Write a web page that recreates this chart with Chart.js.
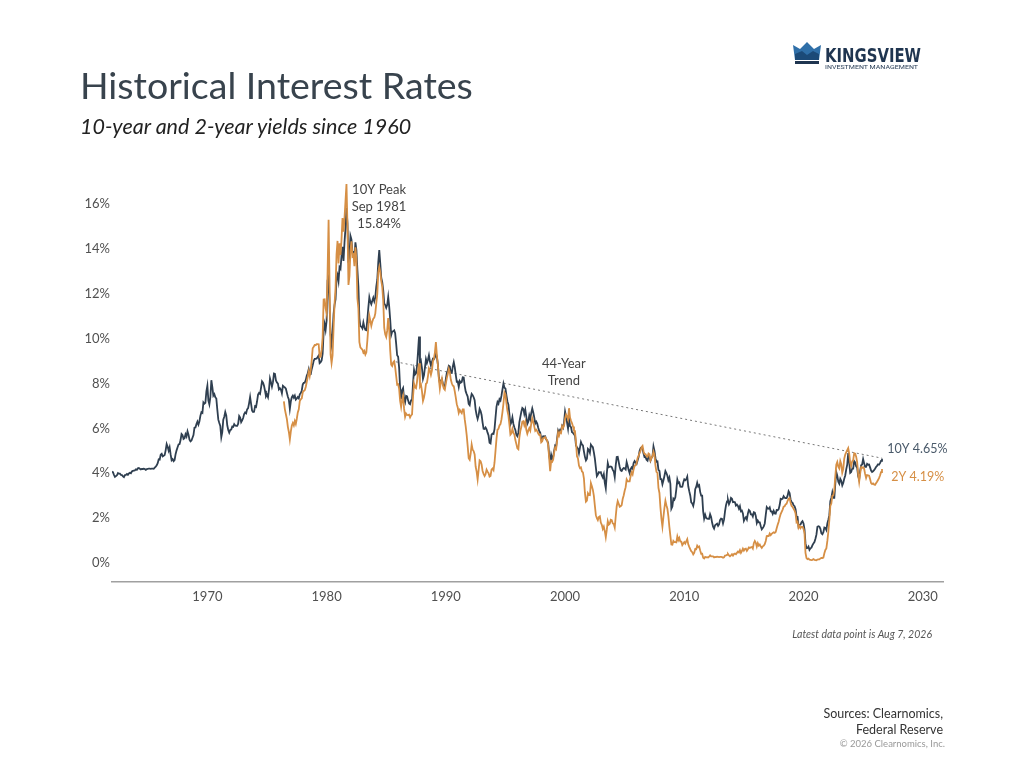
<!DOCTYPE html>
<html>
<head>
<meta charset="utf-8">
<script src="https://cdn.jsdelivr.net/npm/chart.js@4.4.1/dist/chart.umd.min.js"></script>
<style>
  body { margin: 0; background: #fff; font-family: Lato, "Open Sans", sans-serif; }
  #page { position: relative; width: 1024px; height: 768px; overflow: hidden; }
  #chart { position: absolute; left: 0; top: 0; }
  .title { position: absolute; left: 80px; top: 62px; font-size: 37.5px; color: #38434d; white-space: nowrap; }
  .subtitle { position: absolute; left: 80px; top: 113px; font-size: 21.5px; font-style: italic; color: #222; white-space: nowrap; }
  .note { position: absolute; right: 92px; top: 628px; font-size: 10.5px; font-style: italic; color: #555; }
  .sources { position: absolute; right: 81px; top: 706px; font-size: 12.5px; line-height: 16px; color: #333; text-align: right; }
  .copy { position: absolute; right: 79px; top: 738px; font-size: 9.5px; color: #999; }
  #logo { position: absolute; left: 790px; top: 40px; }
</style>
</head>
<body>
<div id="page">
  <canvas id="chart" width="1024" height="768"></canvas>
  <div class="title">Historical Interest Rates</div>
  <div class="subtitle">10-year and 2-year yields since 1960</div>
  <svg id="logo" width="140" height="32" viewBox="0 0 140 32">
    <polygon points="3,5 10,9 17,2 24,9 31,5 29,20 5,20" fill="#2f6fa8"/>
    <polygon points="5,14 12,11 17,15 23,11 29,14 29,20 5,20" fill="#1b4a78"/>
    <rect x="5" y="21" width="24" height="3" fill="#1f3550"/>
    <text x="35" y="22" font-family="DejaVu Sans Condensed, Roboto, sans-serif" font-weight="bold" font-size="20" fill="#1f3550" textLength="96" lengthAdjust="spacingAndGlyphs">KINGSVIEW</text>
    <text x="35" y="29" font-family="Roboto, sans-serif" font-size="6.2" fill="#1f3550" textLength="93" lengthAdjust="spacingAndGlyphs">INVESTMENT MANAGEMENT</text>
  </svg>
  <div class="note">Latest data point is Aug 7, 2026</div>
  <div class="sources">Sources: Clearnomics,<br>Federal Reserve</div>
  <div class="copy">© 2026 Clearnomics, Inc.</div>
</div>
<script>
// monthly yields, 10-year from Jan 1962, 2-year from Jun 1976
const start10Y = 1962;
const start2Y = 1976 + 5 / 12;

const yields10Y = [
  4.08, 4.04, 3.93, 3.84, 3.87, 3.91, 4.01, 3.98, 3.98, 3.93, 3.92, 3.86,
  3.83, 3.92, 3.93, 3.97, 3.93, 3.99, 4.02, 4.00, 4.08, 4.11, 4.12, 4.13,
  4.17, 4.15, 4.22, 4.23, 4.20, 4.17, 4.19, 4.19, 4.20, 4.19, 4.15, 4.18,
  4.19, 4.21, 4.21, 4.20, 4.21, 4.21, 4.20, 4.25, 4.29, 4.35, 4.45, 4.62,
  4.61, 4.83, 4.87, 4.75, 4.78, 4.81, 5.02, 5.30, 5.18, 5.01, 5.16, 4.84,
  4.58, 4.63, 4.54, 4.59, 4.85, 5.02, 5.16, 5.28, 5.30, 5.48, 5.75, 5.70,
  5.53, 5.56, 5.74, 5.64, 5.87, 5.72, 5.50, 5.42, 5.46, 5.58, 5.70, 6.03,
  6.04, 6.19, 6.30, 6.17, 6.32, 6.57, 6.72, 6.69, 7.16, 7.10, 7.14, 7.65,
  7.90, 7.24, 7.07, 7.39, 8.15, 7.84, 7.46, 7.53, 7.39, 7.33, 6.84, 6.39,
  6.24, 6.11, 5.60, 5.83, 6.39, 6.52, 6.73, 6.58, 6.14, 5.93, 5.81, 5.93,
  5.95, 6.08, 6.07, 6.19, 6.13, 6.11, 6.11, 6.21, 6.55, 6.48, 6.28, 6.36,
  6.46, 6.64, 6.71, 6.67, 6.85, 6.90, 7.13, 7.40, 7.09, 6.79, 6.73, 6.74,
  6.99, 6.96, 7.21, 7.51, 7.58, 7.54, 7.81, 8.10, 8.04, 7.90, 7.68, 7.43,
  7.50, 7.39, 7.73, 8.23, 8.06, 7.86, 8.06, 8.45, 8.43, 8.14, 8.05, 8.00,
  7.74, 7.79, 7.73, 7.56, 7.90, 7.86, 7.83, 7.77, 7.59, 7.41, 7.29, 6.87,
  7.21, 7.39, 7.46, 7.37, 7.46, 7.28, 7.33, 7.40, 7.34, 7.52, 7.58, 7.69,
  7.96, 8.03, 8.04, 8.15, 8.35, 8.46, 8.64, 8.41, 8.42, 8.64, 8.81, 9.01,
  9.10, 9.10, 9.12, 9.18, 9.25, 8.91, 8.95, 9.03, 9.33, 10.30, 10.65, 10.39,
  10.80, 12.60, 12.75, 11.47, 10.18, 9.78, 10.25, 11.10, 11.51, 11.75, 12.68, 12.84,
  12.57, 13.19, 13.12, 13.68, 14.10, 13.47, 14.28, 14.94, 15.84, 15.15, 13.39, 13.72,
  14.59, 14.43, 13.86, 13.87, 13.62, 14.30, 13.95, 13.06, 12.34, 10.91, 10.55, 10.54,
  10.46, 10.72, 10.51, 10.40, 10.38, 10.85, 11.38, 11.85, 11.65, 11.54, 11.69, 11.83,
  11.67, 11.84, 12.32, 12.63, 13.41, 13.95, 13.36, 12.72, 12.52, 12.16, 11.57, 11.50,
  11.38, 11.51, 11.86, 11.43, 10.85, 10.16, 10.31, 10.33, 10.37, 10.24, 9.78, 9.26,
  9.19, 8.70, 7.78, 7.30, 7.71, 7.80, 7.30, 7.17, 7.45, 7.43, 7.25, 7.11,
  7.08, 7.25, 7.25, 8.02, 8.61, 8.40, 8.45, 8.76, 9.42, 10.10, 8.86, 8.99,
  8.67, 8.21, 8.37, 8.72, 9.09, 8.92, 9.06, 9.26, 8.98, 8.80, 8.96, 9.11,
  9.09, 9.17, 9.36, 9.18, 8.86, 8.28, 8.02, 8.11, 8.19, 8.01, 7.87, 7.84,
  8.21, 8.47, 8.59, 8.79, 8.76, 8.48, 8.47, 8.75, 8.95, 8.72, 8.39, 8.08,
  8.09, 7.85, 8.11, 8.04, 8.07, 8.28, 8.27, 7.90, 7.65, 7.53, 7.42, 7.09,
  7.03, 7.34, 7.54, 7.48, 7.39, 7.26, 6.84, 6.59, 6.42, 6.59, 6.87, 6.77,
  6.60, 6.26, 5.98, 5.97, 6.04, 5.96, 5.81, 5.68, 5.36, 5.33, 5.72, 5.77,
  5.75, 5.97, 6.48, 6.97, 7.18, 7.10, 7.30, 7.24, 7.46, 7.74, 8.00, 7.81,
  7.78, 7.47, 7.20, 7.06, 6.63, 6.17, 6.28, 6.49, 6.20, 6.04, 5.93, 5.71,
  5.65, 5.81, 6.27, 6.51, 6.74, 6.91, 6.87, 6.64, 6.83, 6.53, 6.20, 6.30,
  6.58, 6.42, 6.69, 6.89, 6.71, 6.49, 6.22, 6.30, 6.21, 6.03, 5.88, 5.81,
  5.54, 5.57, 5.65, 5.64, 5.65, 5.50, 5.46, 5.34, 4.81, 4.53, 4.83, 4.65,
  4.72, 5.00, 5.23, 5.18, 5.54, 5.90, 5.79, 5.94, 5.92, 6.11, 6.03, 6.28,
  6.75, 6.52, 6.26, 5.99, 6.44, 6.10, 6.05, 5.83, 5.80, 5.74, 5.72, 5.24,
  5.16, 5.10, 4.89, 5.14, 5.39, 5.28, 5.24, 4.97, 4.73, 4.57, 4.65, 5.09,
  5.04, 4.91, 5.28, 5.21, 5.16, 4.93, 4.65, 4.26, 3.87, 3.94, 4.05, 4.03,
  4.05, 3.90, 3.81, 3.96, 3.57, 3.33, 3.98, 4.45, 4.27, 4.29, 4.30, 4.27,
  4.15, 4.08, 3.83, 4.35, 4.72, 4.73, 4.50, 4.28, 4.13, 4.10, 4.19, 4.23,
  4.22, 4.17, 4.50, 4.34, 4.14, 4.00, 4.18, 4.26, 4.20, 4.46, 4.54, 4.47,
  4.42, 4.57, 4.72, 4.99, 5.11, 5.15, 5.09, 4.88, 4.72, 4.73, 4.60, 4.56,
  4.76, 4.72, 4.56, 4.69, 4.75, 5.20, 5.00, 4.67, 4.52, 4.53, 4.15, 4.10,
  3.74, 3.74, 3.51, 3.68, 3.88, 4.10, 4.01, 3.89, 3.69, 3.81, 3.53, 2.42,
  2.52, 2.87, 2.82, 2.93, 3.29, 3.72, 3.56, 3.59, 3.40, 3.39, 3.40, 3.59,
  3.73, 3.69, 3.73, 3.85, 3.42, 3.20, 3.01, 2.70, 2.65, 2.54, 2.76, 3.29,
  3.39, 3.58, 3.41, 3.46, 3.17, 3.00, 3.00, 2.30, 1.98, 2.15, 2.01, 1.98,
  1.97, 1.97, 2.17, 2.05, 1.80, 1.62, 1.53, 1.68, 1.72, 1.75, 1.65, 1.72,
  1.91, 1.98, 1.96, 1.76, 1.93, 2.30, 2.58, 2.74, 2.81, 2.62, 2.72, 2.90,
  2.86, 2.71, 2.72, 2.71, 2.56, 2.60, 2.54, 2.42, 2.53, 2.30, 2.33, 2.21,
  1.88, 1.98, 2.04, 1.94, 2.20, 2.36, 2.32, 2.17, 2.17, 2.07, 2.26, 2.24,
  2.09, 1.78, 1.89, 1.81, 1.81, 1.64, 1.50, 1.56, 1.63, 1.76, 2.14, 2.49,
  2.43, 2.42, 2.48, 2.30, 2.30, 2.19, 2.32, 2.21, 2.20, 2.36, 2.35, 2.40,
  2.58, 2.86, 2.84, 2.87, 2.98, 2.91, 2.89, 2.89, 3.00, 3.20, 3.12, 2.83,
  2.71, 2.68, 2.57, 2.53, 2.40, 2.07, 2.06, 1.63, 1.70, 1.71, 1.81, 1.86,
  1.76, 1.50, 0.87, 0.66, 0.67, 0.73, 0.58, 0.65, 0.68, 0.79, 0.87, 0.93,
  1.08, 1.26, 1.61, 1.64, 1.62, 1.52, 1.32, 1.28, 1.37, 1.58, 1.56, 1.47,
  1.76, 1.93, 2.13, 2.75, 2.90, 3.14, 2.90, 2.90, 3.52, 4.05, 3.89, 3.62,
  3.53, 3.75, 3.66, 3.46, 3.57, 3.75, 3.90, 4.17, 4.38, 4.90, 4.50, 4.02,
  4.06, 4.21, 4.21, 4.54, 4.48, 4.31, 4.25, 3.87, 3.72, 4.10, 4.36, 4.39,
  4.63, 4.45, 4.28, 4.28, 4.42, 4.38, 4.39, 4.26, 4.12, 4.06, 4.09, 4.14,
  4.20, 4.28, 4.33, 4.40, 4.38, 4.45, 4.55, 4.65
];

const yields2Y = [
  7.20, 6.85, 6.63, 6.42, 6.07, 5.84, 5.50,
  5.87, 6.13, 6.24, 6.13, 6.33, 6.20, 6.43, 6.71, 6.85, 7.22, 7.30, 7.34,
  7.61, 7.67, 7.70, 7.85, 8.07, 8.30, 8.54, 8.33, 8.60, 9.04, 9.57, 9.64,
  9.72, 9.71, 9.76, 9.76, 9.75, 9.18, 9.20, 9.50, 10.05, 11.75, 11.76, 11.35,
  11.13, 13.00, 15.30, 12.34, 9.30, 8.91, 9.25, 10.44, 11.56, 12.26, 13.76, 14.36,
  13.36, 14.25, 13.73, 14.41, 15.38, 14.77, 15.37, 16.13, 16.90, 15.02, 12.40, 12.80,
  13.91, 14.34, 13.69, 13.75, 13.23, 14.08, 13.54, 11.80, 11.35, 9.85, 9.61, 9.56,
  9.52, 9.38, 9.45, 9.29, 9.39, 9.91, 10.54, 11.02, 10.80, 10.57, 10.76, 10.89,
  10.94, 11.12, 11.58, 11.99, 12.96, 13.20, 12.98, 12.58, 12.32, 11.69, 10.48, 10.20,
  10.08, 10.37, 10.92, 10.42, 9.49, 8.84, 8.78, 8.94, 8.99, 8.73, 8.34, 7.95,
  7.97, 7.76, 7.23, 6.96, 7.28, 7.45, 6.87, 6.51, 6.66, 6.60, 6.59, 6.61,
  6.49, 6.58, 6.63, 7.42, 8.00, 7.83, 7.79, 8.09, 8.56, 8.90, 7.87, 7.95,
  7.65, 7.23, 7.38, 7.63, 7.99, 8.03, 8.32, 8.68, 8.58, 8.39, 8.58, 8.98,
  9.12, 9.38, 9.85, 9.26, 8.84, 8.20, 7.77, 8.06, 8.22, 7.93, 7.78, 7.72,
  8.01, 8.24, 8.43, 8.66, 8.51, 8.18, 8.01, 7.91, 7.88, 7.65, 7.38, 7.08,
  6.93, 6.69, 6.82, 6.74, 6.68, 6.85, 6.85, 6.41, 6.09, 5.70, 5.21, 4.67,
  4.60, 4.88, 5.28, 5.05, 4.99, 4.84, 4.30, 4.07, 3.72, 4.14, 4.58, 4.54,
  4.39, 4.10, 3.97, 3.88, 3.96, 4.16, 4.07, 4.00, 3.85, 3.88, 4.16, 4.21,
  4.14, 4.47, 5.00, 5.54, 5.94, 5.98, 6.13, 6.19, 6.40, 6.73, 7.11, 7.60,
  7.51, 7.11, 6.78, 6.57, 6.17, 5.72, 5.78, 5.98, 5.81, 5.72, 5.48, 5.30,
  5.11, 5.07, 5.59, 5.89, 6.07, 6.30, 6.32, 6.14, 6.29, 5.94, 5.76, 5.90,
  6.01, 5.90, 6.22, 6.45, 6.28, 6.09, 5.89, 5.94, 5.88, 5.77, 5.71, 5.72,
  5.38, 5.43, 5.57, 5.58, 5.61, 5.52, 5.46, 5.27, 4.67, 4.09, 4.54, 4.51,
  4.60, 4.91, 5.14, 5.08, 5.44, 5.81, 5.68, 5.84, 5.80, 6.10, 6.03, 6.13,
  6.44, 6.61, 6.53, 6.40, 6.90, 6.48, 6.34, 6.23, 6.08, 5.91, 5.88, 5.38,
  4.76, 4.66, 4.34, 4.23, 4.26, 4.08, 4.04, 3.76, 3.12, 2.73, 2.78, 3.11,
  3.03, 3.02, 3.56, 3.42, 3.26, 2.99, 2.56, 2.13, 2.00, 1.91, 2.05, 2.08,
  1.80, 1.70, 1.52, 1.62, 1.42, 1.15, 1.47, 1.86, 1.71, 1.75, 1.93, 1.91,
  1.76, 1.74, 1.58, 2.07, 2.53, 2.76, 2.64, 2.51, 2.53, 2.58, 2.85, 3.01,
  3.22, 3.38, 3.73, 3.65, 3.64, 3.64, 3.87, 4.04, 3.95, 4.17, 4.33, 4.35,
  4.45, 4.68, 4.77, 4.90, 5.00, 5.16, 5.22, 4.97, 4.85, 4.85, 4.76, 4.74,
  4.88, 4.85, 4.57, 4.67, 4.77, 4.96, 4.82, 4.34, 4.06, 4.01, 3.35, 3.12,
  2.48, 1.97, 1.62, 2.05, 2.45, 2.77, 2.57, 2.42, 2.08, 1.61, 1.21, 0.82,
  0.81, 0.98, 0.93, 0.93, 0.92, 1.18, 1.02, 1.12, 0.96, 0.95, 0.80, 0.87,
  0.93, 0.86, 0.96, 1.06, 0.83, 0.72, 0.62, 0.52, 0.48, 0.38, 0.45, 0.62,
  0.61, 0.77, 0.70, 0.73, 0.56, 0.41, 0.41, 0.23, 0.20, 0.27, 0.25, 0.26,
  0.24, 0.28, 0.34, 0.29, 0.29, 0.29, 0.25, 0.27, 0.26, 0.28, 0.27, 0.26,
  0.27, 0.27, 0.26, 0.23, 0.25, 0.33, 0.34, 0.36, 0.40, 0.34, 0.30, 0.34,
  0.39, 0.33, 0.40, 0.42, 0.39, 0.45, 0.51, 0.47, 0.57, 0.45, 0.53, 0.64,
  0.55, 0.62, 0.64, 0.54, 0.61, 0.69, 0.67, 0.70, 0.71, 0.64, 0.88, 0.98,
  0.90, 0.73, 0.88, 0.77, 0.82, 0.73, 0.67, 0.74, 0.77, 0.84, 0.98, 1.20,
  1.21, 1.20, 1.31, 1.24, 1.30, 1.34, 1.37, 1.34, 1.38, 1.55, 1.70, 1.84,
  2.03, 2.18, 2.28, 2.38, 2.51, 2.53, 2.61, 2.64, 2.77, 2.86, 2.90, 2.68,
  2.54, 2.50, 2.41, 2.34, 2.21, 1.81, 1.84, 1.57, 1.65, 1.55, 1.61, 1.61,
  1.52, 1.33, 0.45, 0.22, 0.17, 0.19, 0.15, 0.14, 0.13, 0.14, 0.17, 0.14,
  0.13, 0.12, 0.15, 0.16, 0.16, 0.20, 0.22, 0.22, 0.24, 0.43, 0.58, 0.65,
  0.98, 1.39, 1.91, 2.54, 2.65, 2.99, 3.01, 3.25, 3.86, 4.38, 4.50, 4.29,
  4.21, 4.54, 4.40, 4.02, 4.18, 4.65, 4.83, 4.93, 5.03, 5.12, 4.88, 4.46,
  4.32, 4.53, 4.59, 4.89, 4.87, 4.74, 4.50, 3.97, 3.62, 3.97, 4.27, 4.24,
  4.27, 4.21, 3.97, 3.79, 3.92, 3.91, 3.89, 3.74, 3.56, 3.52, 3.55, 3.50,
  3.48, 3.55, 3.62, 3.70, 3.78, 3.90, 4.05, 4.19
];

const trendYears = [1985.8, 2026.6];
const trendValues = [8.97, 4.67];

const xTickYears = [1970, 1980, 1990, 2000, 2010, 2020, 2030];
const yTickValues = [0, 2, 4, 6, 8, 10, 12, 14, 16];

const navy = '#2f3f50';
const orange = '#d68f45';

function toPoints(startYear, values) {
  return values.map((v, i) => ({ x: startYear + i / 12, y: v }));
}

const labelsPlugin = {
  id: 'labels',
  afterDatasetsDraw(chart) {
    const { ctx, scales: { x, y } } = chart;
    ctx.save();
    ctx.font = '13px Lato, sans-serif';
    ctx.textBaseline = 'middle';
    ctx.textAlign = 'center';
    ctx.fillStyle = '#444';
    const px = x.getPixelForValue(1984.4);
    ['10Y Peak', 'Sep 1981', '15.84%'].forEach((t, i) => ctx.fillText(t, px, 190 + i * 17));
    const tx = x.getPixelForValue(1999.9);
    ['44-Year', 'Trend'].forEach((t, i) => ctx.fillText(t, tx, 364 + i * 17));
    ctx.font = '12.5px Lato, sans-serif';
    ctx.textAlign = 'left';
    const last10 = yields10Y[yields10Y.length - 1];
    const last2 = yields2Y[yields2Y.length - 1];
    const ex = x.getPixelForValue(2026.6) + 5;
    ctx.fillStyle = '#4a5a6a';
    ctx.fillText('10Y ' + last10.toFixed(2) + '%', ex, y.getPixelForValue(last10) - 10);
    ctx.fillStyle = orange;
    ctx.fillText('2Y ' + last2.toFixed(2) + '%', ex + 4, y.getPixelForValue(last2) + 8);
    ctx.restore();
  }
};

new Chart(document.getElementById('chart').getContext('2d'), {
  type: 'line',
  data: {
    datasets: [
      {
        label: '2Y',
        data: toPoints(start2Y, yields2Y),
        borderColor: orange,
        borderWidth: 1.8,
        order: 1
      },
      {
        label: '10Y',
        data: toPoints(start10Y, yields10Y),
        borderColor: navy,
        borderWidth: 1.8,
        order: 2
      },
      {
        label: 'Trend',
        data: trendYears.map((v, i) => ({ x: v, y: trendValues[i] })),
        borderColor: '#777',
        borderWidth: 1,
        borderDash: [2, 3],
        order: 3
      }
    ]
  },
  options: {
    responsive: false,
    animation: false,
    events: [],
    elements: { point: { radius: 0 }, line: { tension: 0 } },
    layout: { padding: { left: 0, right: 81, top: 175, bottom: 146 } },
    plugins: { legend: { display: false }, tooltip: { enabled: false } },
    scales: {
      x: {
        type: 'linear',
        min: 1962,
        max: 2031.7,
        afterBuildTicks: s => { s.ticks = xTickYears.map(v => ({ value: v })); },
        afterFit: s => { s.height = 40; },
        grid: { display: false, drawTicks: false },
        border: { display: true, color: '#a0a0a0', width: 1.5 },
        ticks: {
          padding: 7,
          color: '#505050',
          font: { family: 'Lato', size: 13 },
          maxRotation: 0,
          callback: v => String(v)
        }
      },
      y: {
        min: -0.85,
        max: 17.3,
        afterBuildTicks: s => { s.ticks = yTickValues.map(v => ({ value: v })); },
        afterFit: s => { s.width = 112; },
        grid: { display: false, drawTicks: false },
        border: { display: false },
        ticks: {
          padding: 2,
          color: '#505050',
          font: { family: 'Lato', size: 13 },
          callback: v => v + '%'
        }
      }
    }
  },
  plugins: [labelsPlugin]
});
</script>
</body>
</html>
